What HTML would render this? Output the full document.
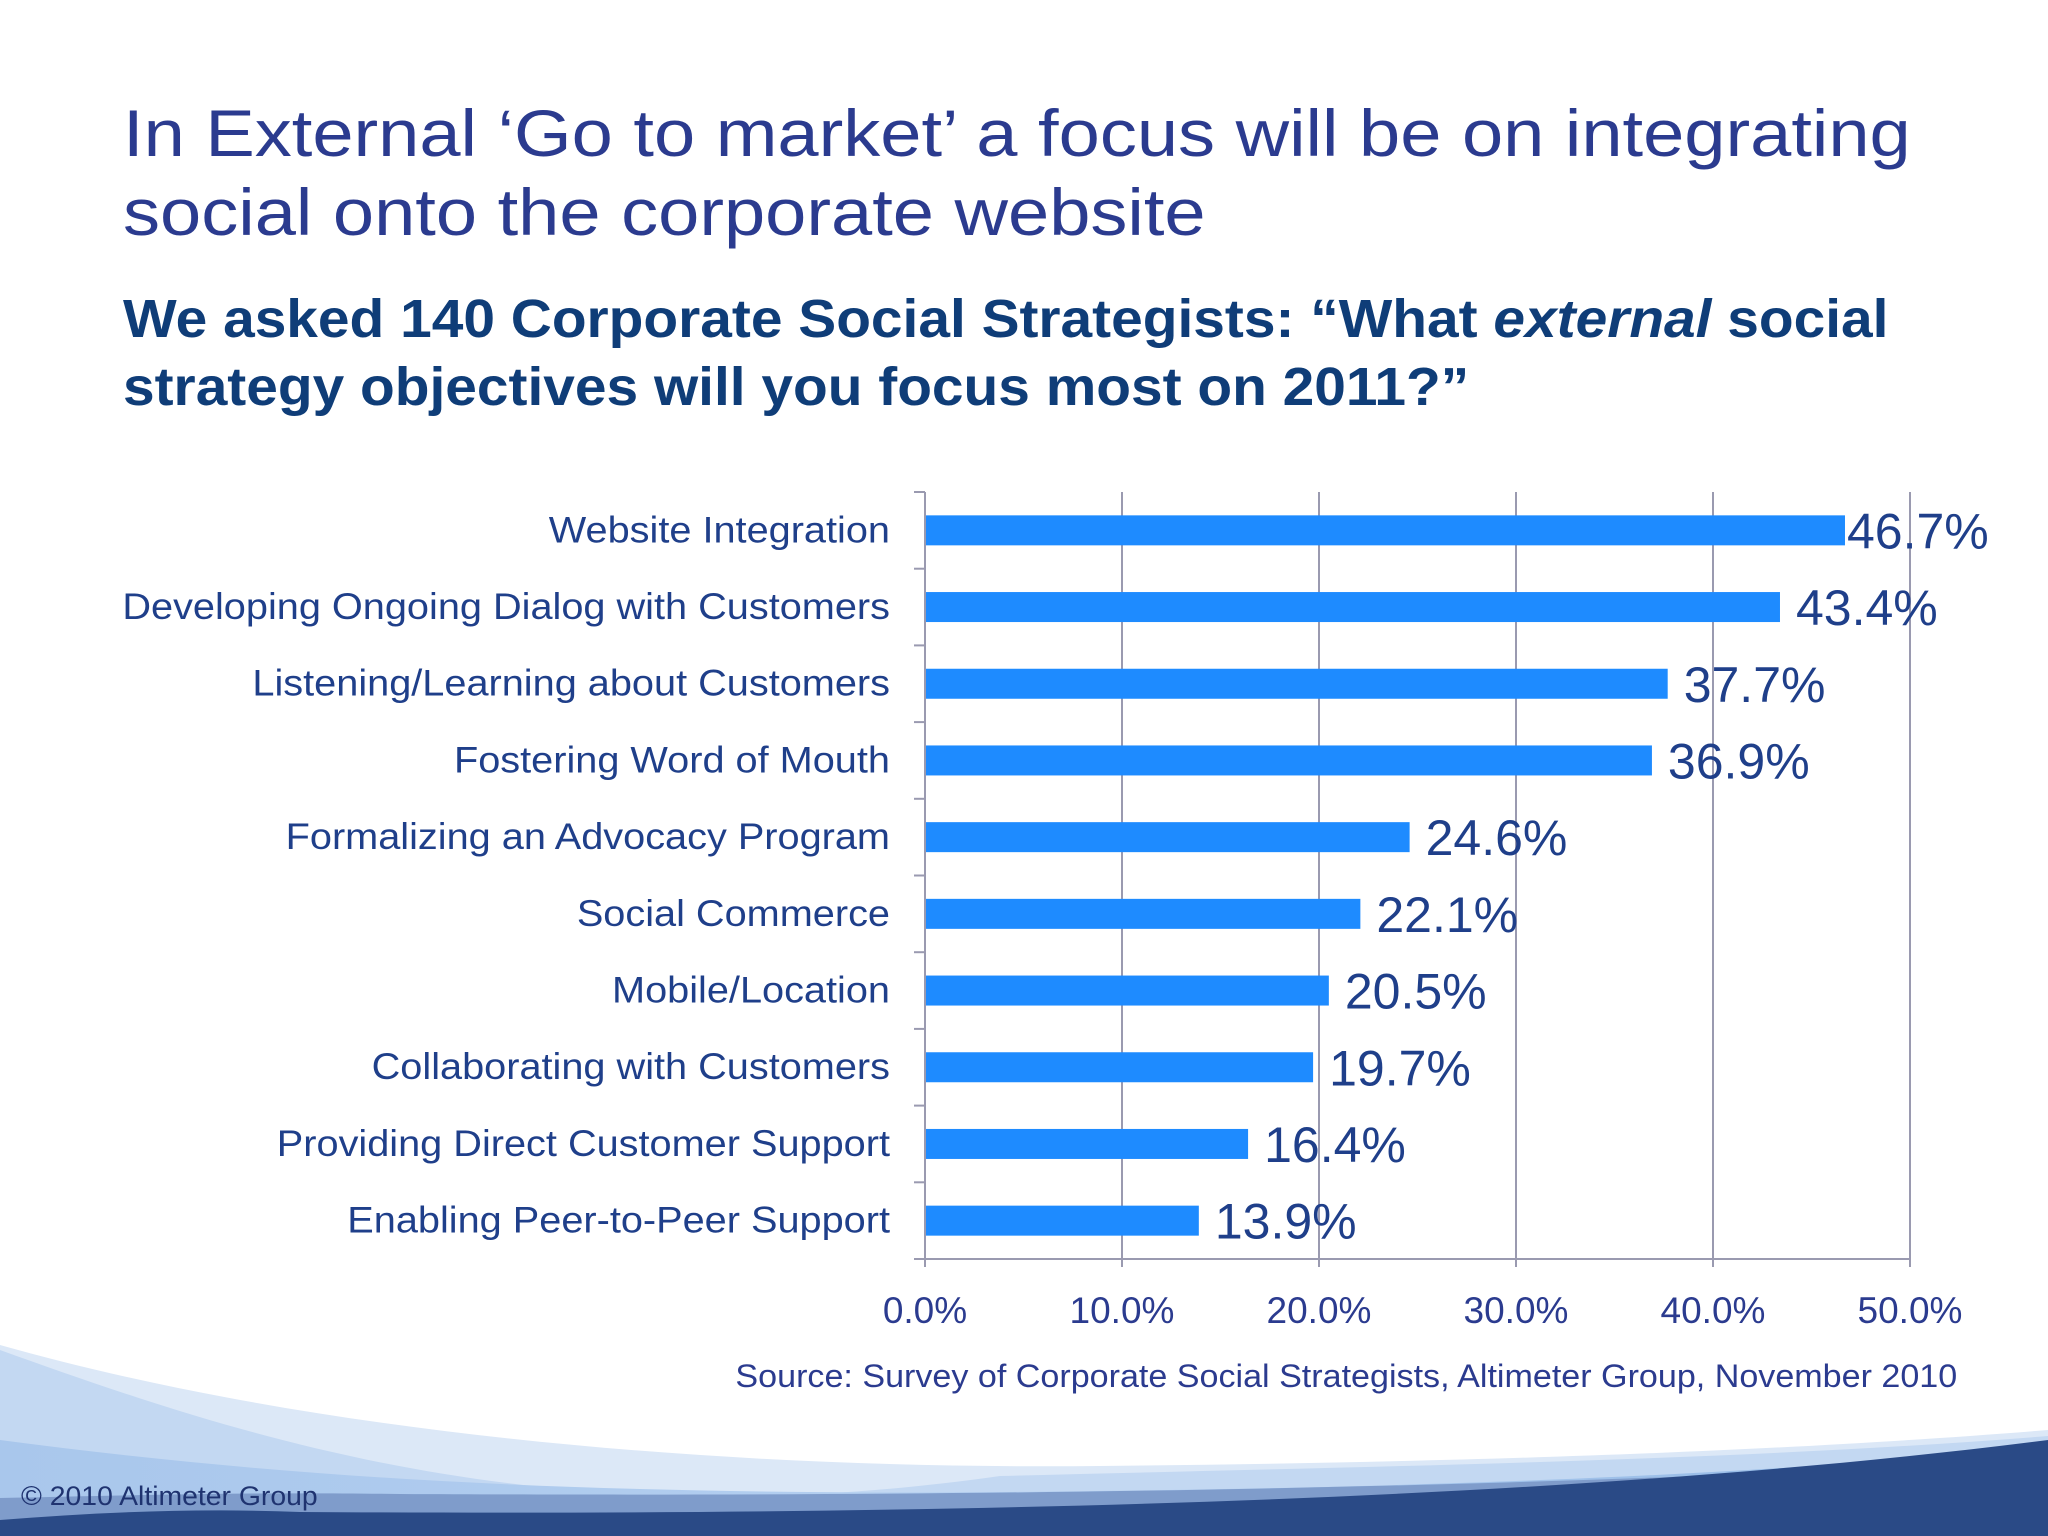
<!DOCTYPE html>
<html><head><meta charset="utf-8"><style>
html,body{margin:0;padding:0;background:#fff;}
body{width:2048px;height:1536px;position:relative;overflow:hidden;font-family:"Liberation Sans",sans-serif;}
.t{position:absolute;white-space:nowrap;}
</style></head><body>
<svg width="2048" height="1536" style="position:absolute;left:0;top:0">
<defs>
<linearGradient id="g1" x1="0" y1="0" x2="1" y2="0"><stop offset="0" stop-color="#a9c7ec"/><stop offset="0.5" stop-color="#b4cff0"/><stop offset="1" stop-color="#8fb6e4"/></linearGradient>
</defs>
<path d="M0,1345 C300,1430 700,1470 1100,1466 C1500,1462 1800,1450 2048,1430 L2048,1536 L0,1536 Z" fill="#dce8f7"/>
<path d="M0,1350 C250,1440 550,1540 1000,1476 C1400,1466 1750,1460 2048,1436 L2048,1536 L0,1536 Z" fill="#c3d8f2"/>
<path d="M0,1440 C300,1480 600,1495 1000,1492 C1500,1488 1800,1470 2048,1448 L2048,1536 L0,1536 Z" fill="url(#g1)"/>
<path d="M0,1498 C150,1495 250,1492 400,1494 C800,1496 1400,1495 2048,1460 L2048,1536 L0,1536 Z" fill="#7f9ccb"/>
<path d="M0,1520 C100,1512 200,1508 300,1512 C800,1515 1500,1510 2048,1440 L2048,1536 L0,1536 Z" fill="#2a4a86"/>
</svg>
<div class="t" style="left:123px;top:94px;font-size:66px;line-height:79px;color:#2b3b8f;transform:scaleX(1.122);transform-origin:0 0;">In External ‘Go to market’ a focus will be on integrating<br>social onto the corporate website</div>
<div class="t" style="left:123px;top:285px;font-size:54px;line-height:68px;font-weight:bold;color:#0f3d78;transform:scaleX(1.053);transform-origin:0 0;">We asked 140 Corporate Social Strategists: “What <i>external</i> social<br>strategy objectives will you focus most on 2011?”</div>
<svg id="chart" width="2048" height="1536" style="position:absolute;left:0;top:0"></svg>
<div class="t" style="right:91px;top:1358px;font-size:32px;color:#2b3b8f;transform:scaleX(1.065);transform-origin:100% 0;">Source: Survey of Corporate Social Strategists, Altimeter Group, November 2010</div>
<div class="t" style="left:21px;top:1481px;font-size:27px;color:#1f3370;transform:scaleX(1.05);transform-origin:0 0;">© 2010 Altimeter Group</div>
<script>
const categories=["Website Integration","Developing Ongoing Dialog with Customers","Listening/Learning about Customers","Fostering Word of Mouth","Formalizing an Advocacy Program","Social Commerce","Mobile/Location","Collaborating with Customers","Providing Direct Customer Support","Enabling Peer-to-Peer Support"];
const values=[46.7,43.4,37.7,36.9,24.6,22.1,20.5,19.7,16.4,13.9];
const ticks=[0,10,20,30,40,50];
const NS="http://www.w3.org/2000/svg";
const svg=document.getElementById('chart');
const X0=925,X1=1910,Y0=492,Y1=1259,MAX=50;
const x=v=>X0+(X1-X0)*v/MAX;
const rowH=(Y1-Y0)/categories.length;
const y=i=>Y0+rowH*i;
function mk(tag,attrs){const e=document.createElementNS(NS,tag);for(const k in attrs)e.setAttribute(k,attrs[k]);svg.appendChild(e);return e;}
ticks.forEach((t,i)=>{
  const g=mk('line',{x1:x(t),x2:x(t),y1:Y0,y2:Y1+8,stroke:'#9a9ab0','stroke-width':2});
  
  
  const l=mk('text',{x:x(t),y:1323,'text-anchor':'middle','font-size':37,fill:'#2b3b8f','font-family':'Liberation Sans, sans-serif'});
  l.textContent=t.toFixed(1)+'%';
  
  
});
for(let i=0;i<=categories.length;i++){
  const tk=mk('line',{x1:X0-11,x2:X0,y1:y(i),y2:y(i),stroke:'#9a9ab0','stroke-width':2});
  
  
}
categories.forEach((c,i)=>{
  const cy=y(i)+rowH/2;
  const b=mk('rect',{x:X0,y:cy-15,width:x(values[i])-X0,height:30,fill:'#1e8bff'});
  
  
  const lb=mk('text',{x:890,y:cy+12,'text-anchor':'end','font-size':37,fill:'#1f3f8a','font-family':'Liberation Sans, sans-serif',textLength:0});
  lb.removeAttribute('textLength');
  lb.textContent=c;
  lb.setAttribute('transform','translate(890,0) scale(1.073,1) translate(-890,0)');
  
  
  const vx=i===0?x(values[i])+2:x(values[i])+16;
  const v=mk('text',{x:vx,y:cy+18,'font-size':50,fill:'#1f3f8a','font-family':'Liberation Sans, sans-serif'});
  v.textContent=values[i].toFixed(1)+'%';
  
  
});
const ax=mk('line',{x1:X0,x2:X0,y1:Y0,y2:Y1,stroke:'#9a9ab0','stroke-width':2});


const bx=mk('line',{x1:X0,x2:X1,y1:Y1,y2:Y1,stroke:'#9a9ab0','stroke-width':2});


</script>
</body></html>
